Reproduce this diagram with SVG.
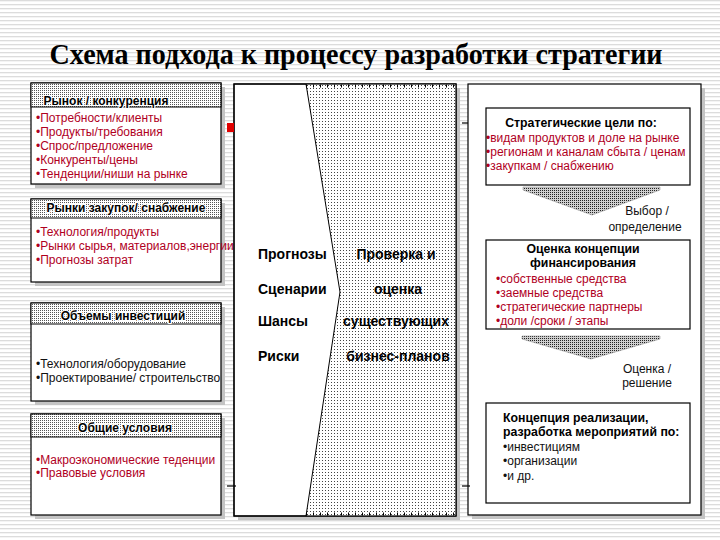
<svg xmlns="http://www.w3.org/2000/svg" width="720" height="540" viewBox="0 0 720 540">
<defs>
<pattern id="bg" width="4" height="4" patternUnits="userSpaceOnUse"><rect width="4" height="4" fill="#ffffff"/><rect y="0" width="4" height="1.3" fill="#dcdcdc"/></pattern>
<pattern id="dots" width="3" height="3" patternUnits="userSpaceOnUse"><rect width="3" height="3" fill="#ffffff"/><rect x="1" y="1" width="1" height="1" fill="#444"/></pattern>
<pattern id="hdots" width="2" height="2" patternUnits="userSpaceOnUse"><rect width="2" height="2" fill="#ffffff"/><rect width="1" height="1" fill="#555"/></pattern>
<pattern id="cdots" width="2" height="2" patternUnits="userSpaceOnUse"><rect width="2" height="2" fill="#cfcfcf"/><rect width="1" height="1" fill="#222"/></pattern>
</defs>
<style>
.box{fill:#fff;stroke:#000;stroke-width:1.2}
.shadow{fill:#c4c4c4}
.hdr{fill:url(#hdots);stroke:#000;stroke-width:1}
.ht{font-family:"Liberation Sans",Arial,sans-serif;font-size:12px;font-weight:bold;fill:#000;text-anchor:middle;stroke:#fff;stroke-width:2.2;paint-order:stroke}
.red{font-family:"Liberation Sans",Arial,sans-serif;font-size:12px;fill:#b0001e}
.blk{font-family:"Liberation Sans",Arial,sans-serif;font-size:12px;fill:#111}
.mid{font-family:"Liberation Sans",Arial,sans-serif;font-size:14px;font-weight:bold;fill:#000}
.bt{font-family:"Liberation Sans",Arial,sans-serif;font-size:12.3px;font-weight:bold;fill:#000}
.stub{stroke:#000;stroke-width:1.2}
</style>
<rect width="720" height="540" fill="url(#bg)"/>
<text x="356" y="64" text-anchor="middle" font-family="'Liberation Serif','Times New Roman',serif" font-size="29" font-weight="bold" fill="#000" textLength="613" lengthAdjust="spacingAndGlyphs">Схема подхода к процессу разработки стратегии</text>

<g id="market">
<rect class="shadow" x="35" y="87" width="190" height="101"/>
<rect class="box" x="31" y="83" width="190" height="101"/>
<rect class="hdr" x="31" y="83" width="190" height="24"/>
<text class="ht" x="106" y="105">Рынок / конкуренция</text>
<text class="red" x="36" y="122">•Потребности/клиенты</text>
<text class="red" x="36" y="136">•Продукты/требования</text>
<text class="red" x="36" y="150">•Спрос/предложение</text>
<text class="red" x="36" y="164">•Конкуренты/цены</text>
<text class="red" x="36" y="178">•Тенденции/ниши на рынке</text>
</g>

<g id="purchase">
<rect class="shadow" x="35" y="203" width="190" height="83"/>
<rect class="box" x="31" y="199" width="190" height="83"/>
<rect class="hdr" x="31" y="199" width="190" height="19"/>
<text class="ht" x="126" y="212">Рынки закупок/ снабжение</text>
<text class="red" x="36" y="236">•Технология/продукты</text>
<text class="red" x="36" y="250">•Рынки сырья, материалов,энергии</text>
<text class="red" x="36" y="264">•Прогнозы затрат</text>
</g>

<g id="invest">
<rect class="shadow" x="35" y="307" width="190" height="98"/>
<rect class="box" x="31" y="303" width="190" height="98"/>
<rect class="hdr" x="31" y="303" width="190" height="21"/>
<text class="ht" x="123" y="320">Объемы инвестиций</text>
<text class="blk" x="36" y="368">•Технология/оборудование</text>
<text class="blk" x="36" y="382">•Проектирование/ строительство</text>
</g>

<g id="general">
<rect class="shadow" x="35" y="418" width="190" height="101"/>
<rect class="box" x="31" y="414" width="190" height="101"/>
<rect class="hdr" x="31" y="414" width="190" height="23"/>
<text class="ht" x="125" y="432">Общие условия</text>
<text class="red" x="36" y="464">•Макроэкономические теденции</text>
<text class="red" x="36" y="477">•Правовые условия</text>
</g>

<g id="center">
<rect class="shadow" x="238" y="88" width="222" height="432"/>
<rect class="box" x="234" y="84" width="222" height="432"/>
<polygon points="306,84 456,84 456,516 306,516 340,292" fill="url(#dots)"/>
<polyline points="306,84 340,292 306,516" fill="none" stroke="#000" stroke-width="1"/>
<line x1="306" y1="86" x2="456" y2="86" stroke="#000" stroke-width="3" stroke-dasharray="1 6"/>
<line x1="306" y1="514" x2="456" y2="514" stroke="#000" stroke-width="3" stroke-dasharray="1 6"/>
<rect x="234" y="84" width="222" height="432" fill="none" stroke="#000" stroke-width="1.2"/>
<text class="mid" x="258" y="259">Прогнозы</text>
<text class="mid" x="258" y="294">Сценарии</text>
<text class="mid" x="258" y="326">Шансы</text>
<text class="mid" x="258" y="361">Риски</text>
<text class="mid" x="396" y="259" text-anchor="middle">Проверка и</text>
<text class="mid" x="398" y="294" text-anchor="middle">оценка</text>
<text class="mid" x="396" y="326" text-anchor="middle">существующих</text>
<text class="mid" x="398" y="361" text-anchor="middle">бизнес-планов</text>
</g>

<g id="right-panel">
<rect class="shadow" x="472" y="88" width="233" height="431"/>
<rect class="box" x="468" y="84" width="233" height="431"/>
</g>

<g id="goals">
<rect class="box" x="486" y="108" width="204" height="77"/>
<text class="bt" x="581" y="127" text-anchor="middle">Стратегические цели по:</text>
<text class="red" x="486" y="142">•видам продуктов и доле на рынке</text>
<text class="red" x="486" y="156">•регионам и каналам сбыта / ценам</text>
<text class="red" x="486" y="170">•закупкам / снабжению</text>
</g>

<g id="choice-label">
<text class="blk" x="647" y="215" text-anchor="middle">Выбор /</text>
<text class="blk" x="645" y="231" text-anchor="middle">определение</text>
</g>

<g id="finance">
<rect class="box" x="486" y="240" width="204" height="89"/>
<text class="bt" x="583" y="253" text-anchor="middle">Оценка концепции</text>
<text class="bt" x="583" y="267" text-anchor="middle">финансирования</text>
<text class="red" x="496" y="283">•собственные средства</text>
<text class="red" x="496" y="297">•заемные средства</text>
<text class="red" x="496" y="311">•стратегические партнеры</text>
<text class="red" x="496" y="325">•доли /сроки / этапы</text>
</g>

<g id="decision-label">
<text class="blk" x="647" y="373" text-anchor="middle">Оценка /</text>
<text class="blk" x="647" y="387" text-anchor="middle">решение</text>
</g>

<g id="realization">
<rect class="box" x="486" y="403" width="204" height="100"/>
<text class="bt" x="503" y="422">Концепция реализации,</text>
<text class="bt" x="503" y="436">разработка мероприятий по:</text>
<text class="blk" x="503" y="451">•инвестициям</text>
<text class="blk" x="503" y="465">•организации</text>
<text class="blk" x="503" y="480">•и др.</text>
</g>

<g id="connectors">
<polygon points="523,187 660,187 660,190 592,215 523,190" fill="url(#cdots)" stroke="#888" stroke-width="0.5"/>
<polygon points="522,336 660,336 660,339 591,359 522,339" fill="url(#cdots)" stroke="#888" stroke-width="0.5"/>
<rect x="227" y="123" width="7" height="9" fill="#e00000"/>
<line class="stub" x1="462" y1="123" x2="468" y2="123"/>
<line class="stub" x1="227" y1="486" x2="236" y2="486"/>
<line class="stub" x1="462" y1="486" x2="470" y2="486"/>
</g>
</svg>
